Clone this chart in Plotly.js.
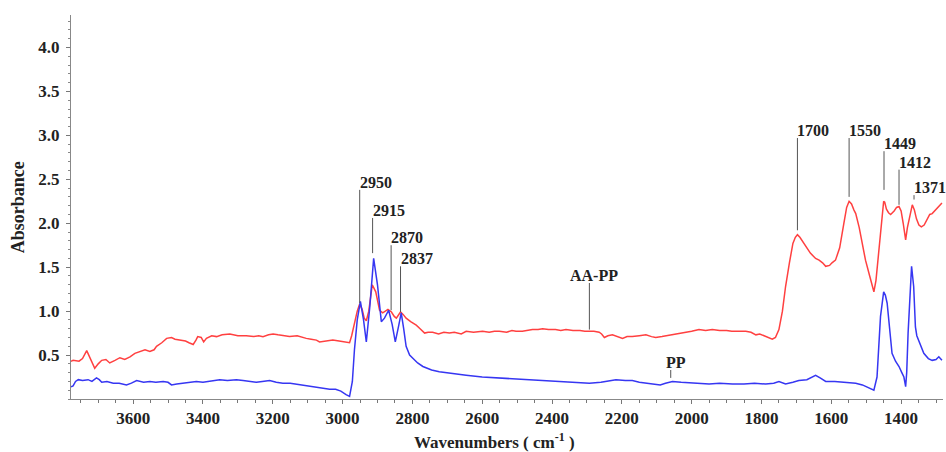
<!DOCTYPE html>
<html>
<head>
<meta charset="utf-8">
<script src="https://cdn.plot.ly/plotly-3.0.1.min.js"></script>
<style>html,body{margin:0;padding:0;background:#fff;}#chart{width:946px;height:452px;}</style>
</head>
<body>
<div id="chart"></div>
<script>
// AA-PP spectrum (red)
const aappWavenumber = [3778,3772,3755,3745,3733,3722,3710,3700,3690,3678,3667,3652,3638,3624,3609,3595,3581,3566,3552,3540,3533,3518,3504,3490,3480,3466,3450,3440,3428,3420,3415,3405,3398,3390,3375,3361,3345,3323,3300,3276,3255,3240,3228,3212,3199,3185,3170,3152,3130,3115,3104,3090,3075,3066,3050,3037,3028,3010,2995,2980,2974,2966,2958,2951,2944,2938,2932,2925,2915,2905,2894,2885,2878,2870,2860,2852,2846,2840,2834,2826,2818,2805,2789,2778,2765,2755,2742,2725,2710,2694,2680,2660,2646,2625,2610,2599,2580,2565,2551,2530,2515,2503,2485,2470,2456,2440,2427,2410,2390,2375,2360,2340,2320,2306,2293,2280,2265,2258,2250,2240,2227,2212,2198,2185,2170,2150,2131,2115,2103,2085,2070,2055,2040,2020,2000,1979,1960,1941,1920,1900,1885,1864,1845,1830,1816,1805,1793,1780,1769,1760,1750,1740,1731,1720,1710,1703,1697,1690,1682,1673,1660,1645,1635,1625,1616,1605,1598,1588,1576,1564,1556,1549,1542,1535,1530,1520,1510,1502,1490,1478,1472,1464,1456,1450,1447,1442,1436,1430,1420,1413,1406,1400,1394,1387,1382,1377,1372,1368,1362,1356,1349,1342,1334,1325,1318,1311,1300,1292,1283];
const aappAbsorb = [0.43,0.44,0.43,0.46,0.55,0.46,0.35,0.40,0.44,0.45,0.41,0.44,0.47,0.45,0.48,0.52,0.54,0.56,0.54,0.56,0.60,0.64,0.69,0.70,0.68,0.67,0.66,0.64,0.62,0.67,0.71,0.70,0.65,0.69,0.72,0.71,0.73,0.74,0.72,0.72,0.71,0.72,0.71,0.73,0.74,0.73,0.72,0.71,0.72,0.70,0.69,0.68,0.67,0.65,0.66,0.67,0.67,0.66,0.65,0.64,0.72,0.86,1.00,1.08,1.02,0.92,0.89,1.00,1.30,1.22,1.01,0.98,1.00,1.02,0.99,0.94,0.92,0.95,0.99,0.96,0.92,0.88,0.84,0.80,0.75,0.76,0.76,0.74,0.76,0.75,0.76,0.74,0.77,0.76,0.77,0.77,0.76,0.77,0.77,0.76,0.78,0.77,0.77,0.78,0.79,0.79,0.80,0.79,0.79,0.78,0.79,0.78,0.78,0.77,0.77,0.77,0.76,0.74,0.70,0.72,0.73,0.71,0.69,0.71,0.71,0.72,0.73,0.71,0.70,0.71,0.72,0.73,0.74,0.76,0.77,0.79,0.78,0.79,0.78,0.78,0.77,0.77,0.77,0.76,0.73,0.74,0.72,0.70,0.68,0.70,0.79,1.00,1.28,1.55,1.77,1.84,1.87,1.84,1.79,1.73,1.66,1.60,1.58,1.55,1.51,1.52,1.55,1.58,1.72,2.00,2.18,2.25,2.22,2.15,2.11,1.95,1.75,1.58,1.40,1.22,1.35,1.70,2.05,2.25,2.24,2.16,2.12,2.10,2.14,2.18,2.19,2.14,2.00,1.81,1.95,2.06,2.16,2.21,2.15,2.05,1.98,1.96,1.98,2.05,2.10,2.11,2.16,2.19,2.23];

// PP spectrum (blue)
const ppWavenumber = [3778,3772,3765,3757,3745,3729,3718,3705,3697,3690,3675,3657,3640,3619,3605,3590,3570,3552,3535,3514,3500,3490,3475,3457,3440,3419,3400,3381,3365,3352,3330,3304,3285,3265,3247,3230,3209,3190,3171,3150,3133,3110,3085,3060,3037,3020,3005,2990,2980,2972,2966,2958,2949,2940,2932,2922,2911,2900,2889,2880,2868,2858,2849,2840,2832,2825,2818,2808,2799,2785,2770,2745,2723,2690,2646,2600,2551,2500,2456,2410,2360,2320,2293,2260,2217,2190,2170,2150,2131,2112,2090,2075,2055,2030,2000,1979,1950,1920,1883,1850,1820,1788,1765,1750,1740,1731,1710,1693,1670,1655,1645,1632,1616,1590,1565,1549,1530,1511,1495,1483,1478,1469,1459,1450,1445,1440,1433,1426,1416,1406,1398,1392,1387,1384,1380,1374,1370,1364,1359,1355,1350,1342,1335,1322,1311,1300,1292,1283];
const ppAbsorb = [0.14,0.15,0.20,0.22,0.21,0.22,0.20,0.24,0.22,0.19,0.20,0.18,0.18,0.16,0.18,0.21,0.19,0.20,0.19,0.20,0.19,0.16,0.17,0.18,0.19,0.20,0.19,0.20,0.21,0.22,0.21,0.22,0.21,0.20,0.19,0.20,0.21,0.19,0.18,0.18,0.17,0.16,0.14,0.13,0.11,0.11,0.09,0.05,0.03,0.20,0.56,0.90,1.11,0.90,0.65,1.05,1.60,1.30,0.88,0.92,1.01,0.85,0.65,0.82,0.98,0.80,0.60,0.50,0.46,0.41,0.37,0.33,0.31,0.29,0.27,0.25,0.24,0.23,0.22,0.21,0.20,0.19,0.18,0.19,0.22,0.21,0.21,0.19,0.18,0.17,0.16,0.18,0.20,0.19,0.18,0.18,0.17,0.18,0.17,0.17,0.18,0.17,0.18,0.20,0.18,0.17,0.19,0.21,0.22,0.25,0.27,0.24,0.20,0.20,0.19,0.19,0.18,0.16,0.13,0.11,0.10,0.25,0.94,1.22,1.18,1.09,0.80,0.52,0.43,0.37,0.30,0.25,0.14,0.30,0.75,1.30,1.51,1.28,0.82,0.72,0.67,0.58,0.52,0.46,0.44,0.45,0.48,0.44];

// Peak labels
const peakLabels = ['2950','2915','2870','2837','AA-PP','PP','1700','1550','1449','1412','1371'];
const peakX      = [2951, 2914, 2861, 2834, 2293, 2060, 1697, 1549, 1449, 1406, 1363];
const lineBottom = [1.09, 1.66, 1.01, 0.99, 0.79, 0.24, 1.92, 2.30, 2.38, 2.21, 2.27];
const lineTop    = [2.38, 2.06, 1.75, 1.51, 1.32, 0.33, 2.97, 2.97, 2.82, 2.61, 2.32];

// Tick labels
const xTickVals = [3600,3400,3200,3000,2800,2600,2400,2200,2000,1800,1600,1400];
const yTickVals = [0.5,1.0,1.5,2.0,2.5,3.0,3.5,4.0];

const serif = 'Liberation Serif, Times New Roman, serif';
const centered = {'AA-PP': true, 'PP': true};

const shapes = peakLabels.map((lab, i) => ({
  type: 'line', xref: 'x', yref: 'y',
  x0: peakX[i], x1: peakX[i], y0: lineBottom[i], y1: lineTop[i],
  line: {color: '#555', width: 1}
}));

const annotations = peakLabels.map((lab, i) => ({
  x: peakX[i], y: lineTop[i], xref: 'x', yref: 'y',
  text: lab, showarrow: false,
  xanchor: centered[lab] ? 'center' : 'left',
  yanchor: 'bottom',
  xshift: centered[lab] ? 5 : -2,
  yshift: -3,
  font: {family: serif, size: 16, color: '#222', weight: 'bold'}
}));

annotations.push({
  xref: 'paper', yref: 'paper', x: -0.0604, y: 0.5,
  text: 'Absorbance', textangle: -90, showarrow: false,
  xanchor: 'center', yanchor: 'middle',
  font: {family: serif, size: 18, color: '#222', weight: 'bold'}
});
annotations.push({
  xref: 'paper', yref: 'paper', x: 0.486, y: -0.11,
  text: 'Wavenumbers ( cm<sup>-1</sup> )', showarrow: false,
  xanchor: 'center', yanchor: 'middle',
  font: {family: serif, size: 17, color: '#222', weight: 'bold'}
});

const data = [
  {x: aappWavenumber, y: aappAbsorb, type: 'scatter', mode: 'lines', name: 'AA-PP',
   line: {color: '#ff4040', width: 1.5}},
  {x: ppWavenumber, y: ppAbsorb, type: 'scatter', mode: 'lines', name: 'PP',
   line: {color: '#3636f2', width: 1.5}}
];

const layout = {
  width: 946, height: 452,
  margin: {l: 71, r: 3, t: 15, b: 53},
  paper_bgcolor: '#fff', plot_bgcolor: '#fff',
  showlegend: false,
  xaxis: {
    range: [3778, 1280], showgrid: false, zeroline: false,
    showline: true, linecolor: '#888', linewidth: 1,
    tickvals: xTickVals, ticktext: xTickVals.map(String),
    ticks: 'outside', ticklen: 4, tickcolor: '#777',
    ticklabelstandoff: 0,
    tickfont: {family: serif, size: 17, color: '#222', weight: 'bold'},
    minor: {dtick: 50, tick0: 0, ticks: 'outside', ticklen: 3, tickcolor: '#777', showgrid: false}
  },
  yaxis: {
    range: [0, 4.37], showgrid: false, zeroline: false,
    showline: true, linecolor: '#888', linewidth: 1,
    tickvals: yTickVals, ticktext: yTickVals.map(v => v.toFixed(1)),
    ticks: 'outside', ticklen: 4, tickcolor: '#777',
    ticklabelstandoff: 3,
    tickfont: {family: serif, size: 17, color: '#222', weight: 'bold'},
    minor: {dtick: 0.1, tick0: 0, ticks: 'outside', ticklen: 2, tickcolor: '#888', showgrid: false}
  },
  shapes: shapes,
  annotations: annotations
};

Plotly.newPlot('chart', data, layout, {displayModeBar: false, staticPlot: true});
</script>
</body>
</html>
